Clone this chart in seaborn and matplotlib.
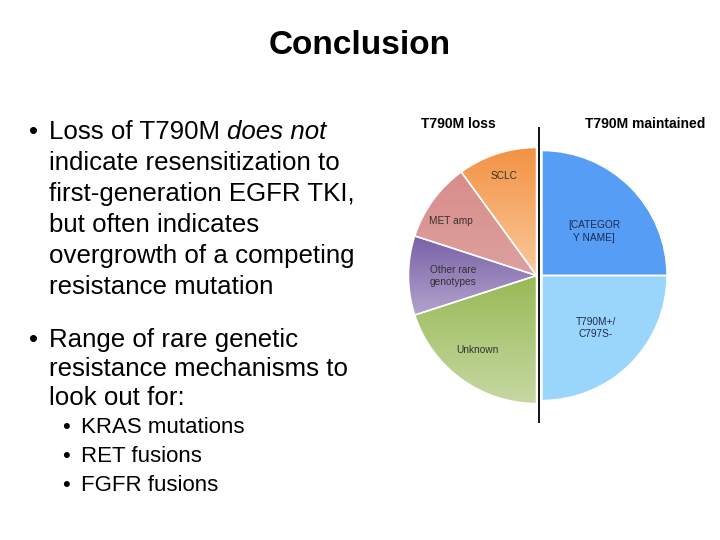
import numpy as np
import matplotlib
matplotlib.use("Agg")
import matplotlib.pyplot as plt
import seaborn as sns
from matplotlib.colors import LinearSegmentedColormap
from matplotlib.patches import Wedge

# ---------------- data ----------------
title = "Conclusion"
loss_header = "T790M loss"
kept_header = "T790M maintained"

loss_labels = ["SCLC", "MET amp", "Other rare\ngenotypes", "Unknown"]
loss_values = [5, 5, 5, 10]
loss_top_colors = ["#F39242", "#D98C8A", "#7860A6", "#98B955"]
loss_bottom_colors = ["#FBC89C", "#DCA19F", "#B3A3CD", "#C6D8A2"]

kept_labels = ["[CATEGOR\nY NAME]", "T790M+/\nC797S-"]
kept_values = [12.5, 12.5]
kept_colors = ["#559DF5", "#9AD6FB"]

bullet1 = ["Loss of T790M ", "does not", "indicate resensitization to",
           "first-generation EGFR TKI,", "but often indicates",
           "overgrowth of a competing", "resistance mutation"]
bullet2 = ["Range of rare genetic", "resistance mechanisms to", "look out for:"]
sub_bullets = ["KRAS mutations", "RET fusions", "FGFR fusions"]

# ---------------- style ----------------
sns.set_theme(style="white")
plt.rcParams["font.family"] = ["Liberation Sans", "DejaVu Sans"]
plt.rcParams["text.color"] = "black"

W, H = 720, 540
fig = plt.figure(figsize=(7.2, 5.4), dpi=100)
ax = fig.add_axes([0, 0, 1, 1])


def Y(y):
    return H - y


# ---------------- pies ----------------
loss_center = (536.5, Y(275.5))
loss_radius = 128
kept_center = (542.0, Y(275.5))
kept_radius = 125

lw, _ = ax.pie(loss_values + [sum(loss_values)],
               colors=loss_top_colors + ["none"],
               startangle=90, counterclock=True,
               center=loss_center, radius=loss_radius,
               wedgeprops=dict(edgecolor="none", linewidth=0))
lw[-1].set_visible(False)

kw, _ = ax.pie(kept_values + [sum(kept_values)],
               colors=kept_colors + ["none"],
               startangle=90, counterclock=False,
               center=kept_center, radius=kept_radius,
               wedgeprops=dict(edgecolor="none", linewidth=0))
kw[-1].set_visible(False)

# vertical gradients on the loss wedges
for wedge, top, bottom in zip(lw[:-1], loss_top_colors, loss_bottom_colors):
    bb = wedge.get_path().get_extents()
    cmap = LinearSegmentedColormap.from_list("g", [bottom, top])
    grad = np.linspace(0, 1, 256).reshape(-1, 1)
    im = ax.imshow(grad, cmap=cmap, origin="lower",
                   extent=(bb.x0, bb.x1, bb.y0, bb.y1),
                   aspect="auto", zorder=2, interpolation="bilinear")
    im.set_clip_path(wedge)

# white separators between slices
for wset in (lw[:-1], kw[:-1]):
    for w in wset:
        ax.add_patch(Wedge(w.center, w.r, w.theta1, w.theta2,
                           facecolor="none", edgecolor="white",
                           linewidth=1.1, zorder=3))

# divider line
ax.vlines(539.3, Y(423), Y(127), color="black", linewidth=1.3, zorder=4)

# headers
ax.text(458.5, Y(124), loss_header, fontsize=10, fontweight="bold",
        ha="center", va="center", color="black")
ax.text(645.5, Y(124), kept_header, fontsize=10, fontweight="bold",
        ha="center", va="center", color="black")

# slice labels
loss_label_pos = [(504, 176), (450.5, 220.5), (453, 276), (477.5, 350)]
for lab, (x, y) in zip(loss_labels, loss_label_pos):
    ax.text(x, Y(y), lab, fontsize=7.3, ha="center", va="center",
            multialignment="center", color="#333333", linespacing=1.35,
            zorder=5)
kept_label_pos = [(594, 231.5), (596, 328)]
for lab, (x, y) in zip(kept_labels, kept_label_pos):
    ax.text(x, Y(y), lab, fontsize=7.3, ha="center", va="center",
            multialignment="center", color="#1E2A50", linespacing=1.35,
            zorder=5)

# ---------------- slide text ----------------
ax.text(360, Y(46), title, fontsize=24, fontweight="bold", ha="center",
        va="center", color="black")

fs_main = 18.6
x_text = 49
x_bul = 29
base1 = [139, 170, 201, 232, 263, 294]
ax.text(x_bul, Y(base1[0]), "\u2022", fontsize=fs_main, va="baseline",
        color="black")
t = ax.text(x_text, Y(base1[0]), bullet1[0], fontsize=fs_main,
            va="baseline", color="black")
fig.canvas.draw()
bb = t.get_window_extent()
ax.text(x_text + bb.width, Y(base1[0]), bullet1[1], fontsize=fs_main,
        va="baseline", style="italic", color="black")
for line, b in zip(bullet1[2:], base1[1:]):
    ax.text(x_text, Y(b), line, fontsize=fs_main, va="baseline",
            color="black")

base2 = [347, 376, 405]
ax.text(x_bul, Y(base2[0]), "\u2022", fontsize=fs_main, va="baseline",
        color="black")
for line, b in zip(bullet2, base2):
    ax.text(x_text, Y(b), line, fontsize=fs_main, va="baseline",
            color="black")

fs_sub = 16
base3 = [433, 462, 491]
for line, b in zip(sub_bullets, base3):
    ax.text(62, Y(b), "\u2022", fontsize=fs_sub, va="baseline",
            color="black")
    ax.text(81, Y(b), line, fontsize=fs_sub, va="baseline", color="black")

ax.set_xlim(0, W)
ax.set_ylim(0, H)
ax.set_aspect("auto")
ax.axis("off")

fig.savefig("out.png", dpi=100, facecolor="white")
